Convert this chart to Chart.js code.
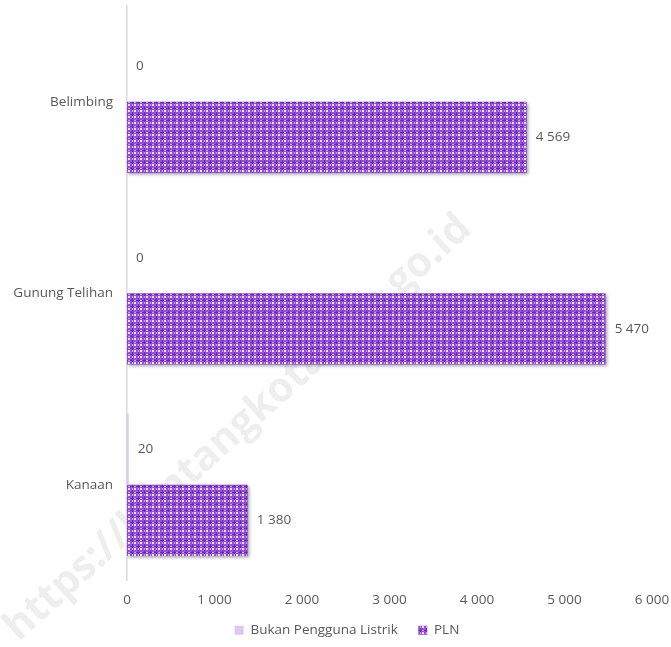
<!DOCTYPE html>
<html><head><meta charset="utf-8">
<script src="https://cdn.jsdelivr.net/npm/chart.js@4.4.0/dist/chart.umd.min.js"></script>
<style>html,body{margin:0;padding:0;background:#fff}#wrap{width:671px;height:647px}</style>
</head><body><div id="wrap"><canvas id="c" width="671" height="647"></canvas></div>
<script>
const categories = ["Belimbing", "Gunung Telihan", "Kanaan"];
const bukanValues = [0, 0, 20];
const plnValues = [4569, 5470, 1380];
const seriesNames = ["Bukan Pengguna Listrik", "PLN"];
const xTicks = [0, 1000, 2000, 3000, 4000, 5000, 6000];

const FONT = 'Open Sans';
const FSIZE = 13.5;

function fmt(v){ return String(v).replace(/\B(?=(\d{3})+(?!\d))/g, ' '); }

function makePattern(){
  const p = document.createElement('canvas'); p.width = 6; p.height = 6;
  const g = p.getContext('2d');
  g.fillStyle = '#9450d6'; g.fillRect(0,0,6,6);
  g.fillStyle = '#6c2bb0';
  g.fillRect(0,0,1,6); g.fillRect(0,0,6,1);
  g.fillStyle = '#ece0f8';
  g.fillRect(2,2,2,2);
  g.fillStyle = '#c9a9ee';
  g.fillRect(2,0,2,1); g.fillRect(0,2,1,2);
  return g.createPattern(p, 'repeat');
}
const plnPattern = makePattern();

const labelPlugin = {
  id: 'vals',
  afterDatasetsDraw(chart){
    const ctx = chart.ctx;
    ctx.save();
    ctx.font = FSIZE + 'px "' + FONT + '"';
    ctx.fillStyle = '#595959';
    ctx.textBaseline = 'middle';
    chart.data.datasets.forEach((ds, di) => {
      chart.getDatasetMeta(di).data.forEach((bar, i) => {
        ctx.fillText(fmt(ds.data[i]), bar.x + 9, bar.y);
      });
    });
    ctx.restore();
  }
};
const shadowPlugin = {
  id: 'shadow',
  beforeDatasetDraw(chart, args){
    if (args.index === 1){
      chart.ctx.save();
      chart.ctx.shadowColor = 'rgba(0,0,0,0.35)';
      chart.ctx.shadowBlur = 3;
      chart.ctx.shadowOffsetX = 1.5;
      chart.ctx.shadowOffsetY = 1.5;
    }
  },
  afterDatasetDraw(chart, args){
    if (args.index === 1) chart.ctx.restore();
  }
};
const watermark = {
  id: 'wm',
  beforeDraw(chart){
    const ctx = chart.ctx;
    ctx.save();
    ctx.translate(238, 428);
    ctx.rotate(-0.735);
    ctx.font = 'bold 41px "Open Sans"';
    ctx.textAlign = 'center';
    ctx.textBaseline = 'middle';
    ctx.fillStyle = 'rgba(200,200,200,0.3)';
    ctx.fillText('https://bontangkota.bps.go.id', 0, 0);
    ctx.restore();
  }
};
const legendShift = {
  id: 'legendShift',
  afterLayout(chart){
    if (chart.legend){ chart.legend.left += 21; chart.legend.right += 21; }
  }
};

new Chart(document.getElementById('c'), {
  type: 'bar',
  data: {
    labels: categories,
    datasets: [
      { label: seriesNames[0], data: bukanValues, backgroundColor: '#dcc8f0', borderWidth: 0 },
      { label: seriesNames[1], data: plnValues, backgroundColor: plnPattern, borderWidth: 0 }
    ]
  },
  options: {
    indexAxis: 'y',
    responsive: false,
    animation: false,
    devicePixelRatio: 1,
    categoryPercentage: 0.743,
    barPercentage: 1.0,
    layout: { padding: { top: 6, right: 19, left: 0, bottom: 0 } },
    scales: {
      x: {
        min: 0, max: 6000,
        afterBuildTicks(s){ s.ticks = xTicks.map(v => ({value: v})); },
        grid: { display: false, drawTicks: false },
        border: { display: false },
        ticks: { color: '#595959', font: { family: FONT, size: FSIZE }, padding: 12,
          callback: v => fmt(v) },
        afterFit(s){ s.height = 33; s.paddingLeft = 0; s.paddingRight = 0; }
      },
      y: {
        grid: { display: false, drawTicks: false },
        border: { display: true, color: '#d9d9d9', width: 1.5 },
        ticks: { color: '#595959', font: { family: FONT, size: FSIZE }, padding: 14 },
        afterFit(s){ s.width = 127; s.paddingTop = 0; s.paddingBottom = 0; }
      }
    },
    plugins: {
      legend: {
        position: 'bottom',
        labels: { color: '#595959', font: { family: FONT, size: FSIZE }, boxWidth: 9, boxHeight: 9, padding: 10,
          generateLabels(chart){
            const items = Chart.defaults.plugins.legend.labels.generateLabels(chart);
            items.forEach((it, i) => { if (i === 0) it.text = it.text + '   '; });
            return items;
          }
        }
      },
      tooltip: { enabled: false }
    }
  },
  plugins: [labelPlugin, shadowPlugin, watermark, legendShift]
});
</script></body></html>
